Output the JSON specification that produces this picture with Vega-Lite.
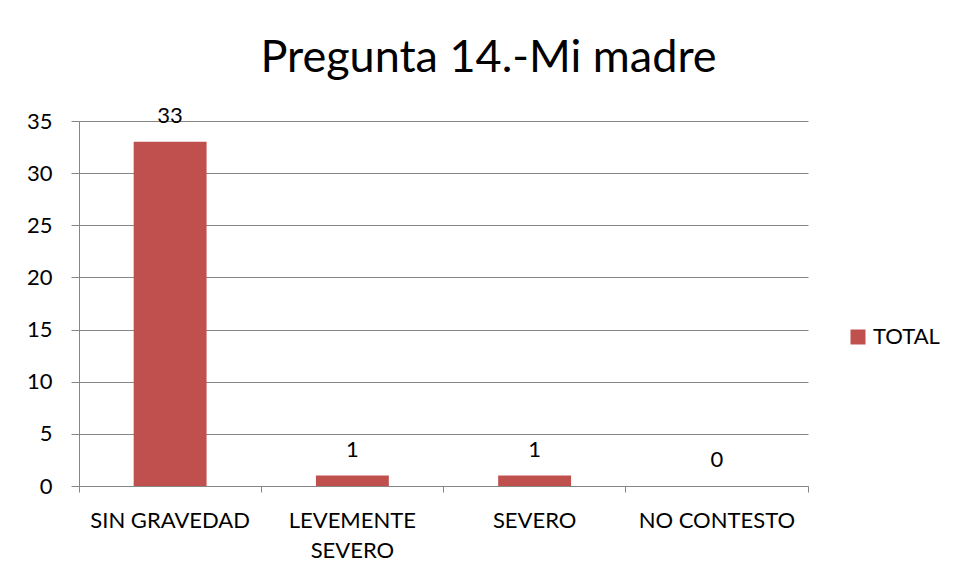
{
  "$schema": "https://vega.github.io/schema/vega-lite/v6.json",
  "width": 729,
  "height": 365,
  "autosize": "none",
  "padding": {"left": 79, "top": 121, "right": 150, "bottom": 89},
  "background": "white",
  "title": {
    "text": "Pregunta 14.-Mi madre",
    "font": "Lato",
    "fontSize": 45,
    "fontWeight": "normal",
    "color": "black",
    "anchor": "middle",
    "dx": 45,
    "offset": 24
  },
  "data": {
    "values": [
      {"categoria": "SIN GRAVEDAD", "valor": 33, "serie": "TOTAL"},
      {"categoria": "LEVEMENTE SEVERO", "valor": 1, "serie": "TOTAL"},
      {"categoria": "SEVERO", "valor": 1, "serie": "TOTAL"},
      {"categoria": "NO CONTESTO", "valor": 0, "serie": "TOTAL"}
    ]
  },
  "encoding": {
    "x": {
      "field": "categoria",
      "type": "nominal",
      "sort": null,
      "scale": {"paddingInner": 0, "paddingOuter": 0},
      "axis": {
        "title": null,
        "labelAngle": 0,
        "bandPosition": 1,
        "tickExtra": true,
        "tickSize": 6,
        "domainColor": "#868686",
        "tickColor": "#868686",
        "labelFont": "Lato",
        "labelFontSize": 22,
        "labelColor": "black",
        "labelPadding": 18,
        "labelLineHeight": 30,
        "labelExpr": "datum.label == 'LEVEMENTE SEVERO' ? ['LEVEMENTE', 'SEVERO'] : datum.label",
        "grid": false
      }
    },
    "y": {
      "field": "valor",
      "type": "quantitative",
      "scale": {"domain": [0, 35], "nice": false},
      "axis": {
        "title": null,
        "values": [0, 5, 10, 15, 20, 25, 30, 35],
        "tickSize": 8,
        "domainColor": "#868686",
        "tickColor": "#868686",
        "gridColor": "#868686",
        "grid": true,
        "labelFont": "Lato",
        "labelFontSize": 22,
        "labelColor": "black",
        "labelPadding": 19
      }
    }
  },
  "layer": [
    {
      "mark": {"type": "bar", "width": {"band": 0.4}, "color": "#C0504D"},
      "encoding": {
        "color": {
          "field": "serie",
          "type": "nominal",
          "scale": {"range": ["#C0504D"]},
          "legend": {
            "title": null,
            "orient": "none",
            "legendX": 768,
            "legendY": 205,
            "symbolType": "square",
            "symbolSize": 225,
            "symbolStrokeWidth": 0,
            "labelFont": "Lato",
            "labelFontSize": 22,
            "labelColor": "black",
            "labelOffset": 4,
            "padding": 0
          }
        }
      }
    },
    {
      "mark": {"type": "text", "dy": -26, "baseline": "middle", "font": "Lato", "fontSize": 22, "color": "black"},
      "encoding": {"text": {"field": "valor", "type": "quantitative"}}
    }
  ],
  "config": {
    "view": {"stroke": null}
  }
}
